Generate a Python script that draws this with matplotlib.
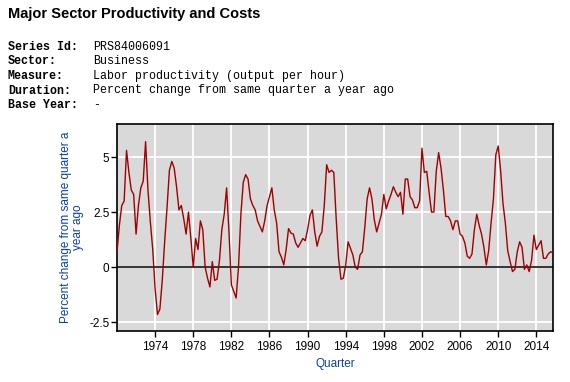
import numpy as np
import pandas as pd
import matplotlib
matplotlib.use('Agg')
import matplotlib.pyplot as plt

# Labor productivity, business sector, % change from same quarter a year ago
start_quarter = '1970Q1'
pct_change = [
    0.7, 1.9, 2.8, 3.0, 5.3, 4.3, 3.5, 3.3, 1.5, 2.8,
    3.6, 3.9, 5.7, 3.5, 2.05, 0.8, -1.0, -2.15, -1.9, -0.6,
    1.15, 2.7, 4.4, 4.8, 4.5, 3.65, 2.6, 2.8, 2.2, 1.5,
    2.5, 1.3, 0.0, 1.3, 0.8, 2.1, 1.7, 0.0, -0.5, -0.9,
    0.25, -0.6, -0.55, 0.3, 1.7, 2.4, 3.6, 1.6, -0.8, -1.1,
    -1.4, 0.0, 2.4, 3.85, 4.2, 4.0, 3.1, 2.8, 2.6, 2.1,
    1.85, 1.6, 2.1, 2.8, 3.2, 3.6, 2.6, 2.0, 0.7, 0.45,
    0.1, 0.8, 1.75, 1.55, 1.5, 1.1, 0.9, 1.1, 1.3, 1.2,
    1.7, 2.35, 2.6, 1.6, 0.95, 1.4, 1.6, 2.8, 4.65, 4.3,
    4.4, 4.3, 2.2, 0.4, -0.55, -0.5, 0.1, 1.15, 0.85, 0.55,
    0.0, -0.1, 0.55, 0.7, 1.8, 3.1, 3.6, 3.1, 2.15, 1.6,
    2.0, 2.4, 3.3, 2.65, 3.0, 3.3, 3.65, 3.4, 3.2, 3.4,
    2.4, 4.0, 4.0, 3.2, 3.05, 2.7, 2.7, 3.0, 5.4, 4.3,
    4.35, 3.4, 2.5, 2.5, 4.35, 5.2, 4.5, 3.5, 2.3, 2.3,
    2.1, 1.7, 2.1, 2.1, 1.5, 1.4, 1.1, 0.5, 0.4, 0.6,
    1.7, 2.4, 1.9, 1.5, 0.9, 0.1, 0.75, 2.0, 3.1, 5.1,
    5.5, 4.4, 2.9, 2.0, 0.75, 0.25, -0.2, -0.1, 0.7, 1.15,
    0.9, -0.1, 0.1, -0.2, 0.3, 1.45, 0.8, 1.0, 1.2, 0.4,
    0.4, 0.6, 0.7, 0.65,
]
year_ticks = list(range(1974, 2015, 4))
y_ticks = [-2.5, 0, 2.5, 5]

meta_labels = ['Series Id:', 'Sector:', 'Measure:', 'Duration:', 'Base Year:']
meta_values = ['PRS84006091', 'Business', 'Labor productivity (output per hour)',
               'Percent change from same quarter a year ago', '-']

quarters = pd.period_range(start_quarter, periods=len(pct_change), freq='Q')
x = quarters.year + (quarters.quarter - 1) / 4.0

W, H = 570, 382
fig = plt.figure(figsize=(W / 100, H / 100), dpi=100)
plt.rcParams['font.family'] = ['Liberation Sans', 'DejaVu Sans']

fig.text(8 / W, 1 - 14 / H, 'Major Sector Productivity and Costs', fontsize=10.5,
         fontweight='bold', va='center', ha='left')
rows_y = [47, 61.5, 76, 90.5, 105]
for lab, val, yy in zip(meta_labels, meta_values, rows_y):
    fig.text(8 / W, 1 - yy / H, lab, family='Liberation Mono', fontsize=8.4,
             fontweight='bold', va='center')
    fig.text(93 / W, 1 - yy / H, val, family='Liberation Mono', fontsize=8.4,
             va='center')

ax = fig.add_axes([117 / W, 1 - 331 / H, (553 - 117) / W, (331 - 124) / H])
ax.set_facecolor('#d9d9d9')
ax.grid(True, color='white', linewidth=1.3)
ax.set_axisbelow(True)
ax.axhline(0, color='black', linewidth=1.1, zorder=2)
ax.plot(x, pct_change, color='#a00000', linewidth=1.0, zorder=3)

ax.set_xlim(x[0], x[-1])
ax.set_ylim(-2.9, 6.5)
ax.set_xticks(year_ticks)
ax.set_xticklabels([str(y) for y in year_ticks])
ax.set_yticks(y_ticks)
ax.set_yticklabels(['-2.5', '0', '2.5', '5'])
ax.tick_params(labelsize=8.5, length=4, width=1, colors='black', pad=3)
ax.tick_params(axis='y', pad=1.5)
for s in ax.spines.values():
    s.set_color('black')
    s.set_linewidth(1.2)

blue = '#0a3fa6'
ax.set_ylabel('Percent change from same quarter a\nyear ago', color=blue,
              fontsize=8.5, linespacing=1.0, labelpad=4)
ax.set_xlabel('Quarter', color=blue, fontsize=8.5, labelpad=4)

fig.savefig('out.png', dpi=100)
